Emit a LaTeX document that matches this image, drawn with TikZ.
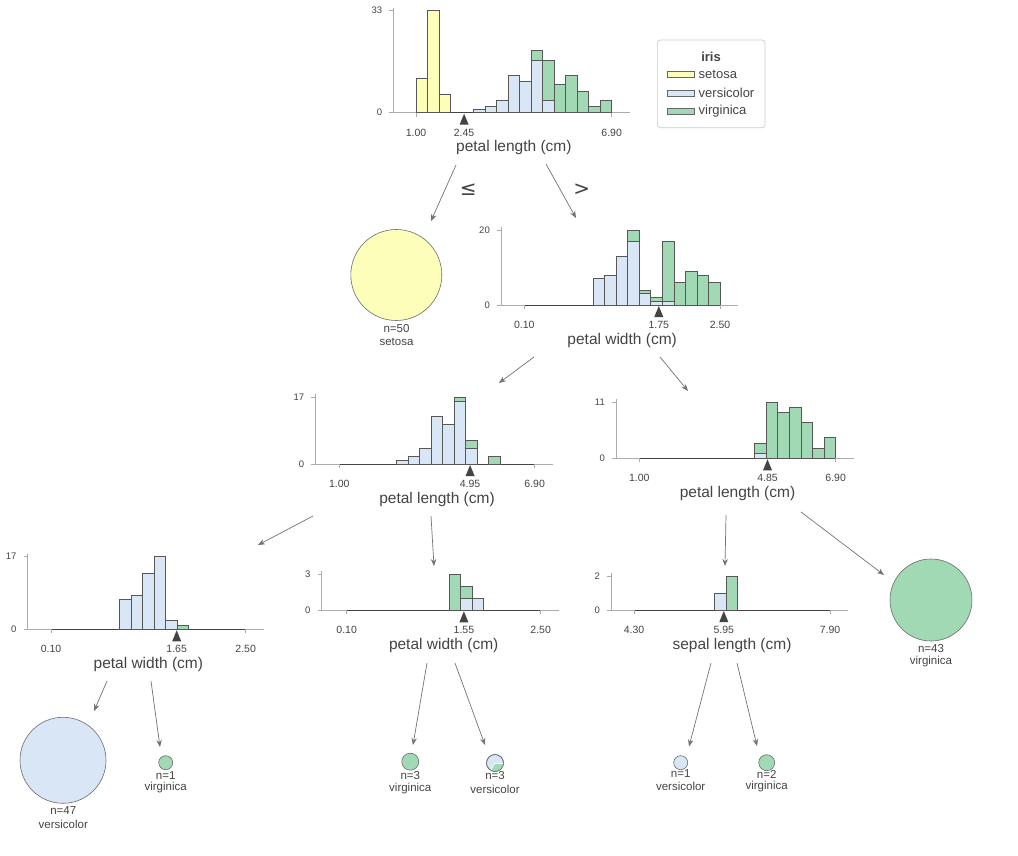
\documentclass[tikz,border=0pt]{standalone}
\usepackage{fontspec}
\setmainfont{Liberation Sans}
\newfontfamily\symfont{DejaVu Sans}
\usetikzlibrary{arrows.meta}
\definecolor{setosa}{HTML}{FEFEBB}
\definecolor{vers}{HTML}{D9E6F5}
\definecolor{virg}{HTML}{A1D9B4}
\definecolor{edge}{HTML}{444443}
\definecolor{axisgray}{HTML}{ABABAB}
\definecolor{txt}{HTML}{444443}
\tikzset{
 bar/.style={draw=edge!90!white, line width=0.9pt},
 spine/.style={draw=axisgray, line width=0.8pt},
 zeroline/.style={draw=edge, line width=1pt},
 ticklab/.style={font=\fontsize{10.5}{12}\selectfont, text=txt, inner sep=0pt},
 ylab/.style={font=\fontsize{9.5}{11}\selectfont, text=txt, inner sep=0pt, anchor=east},
 axlab/.style={font=\fontsize{15.5}{18}\selectfont, text=txt, inner sep=0pt},
 leaflab/.style={font=\fontsize{11.5}{13}\selectfont, text=txt, inner sep=0pt},
 leaf/.style={circle, draw=gray!85!black, line width=0.6pt, inner sep=0pt},
 conn/.style={draw=gray!90!black, line width=0.7pt, -{Stealth[length=7pt,width=5.5pt]}},
 splitmark/.style={fill=edge, draw=none},
 cmp/.style={font=\symfont\fontsize{20}{22}\selectfont, text=txt, inner sep=0pt},
 legtext/.style={font=\fontsize{13}{15}\selectfont, text=txt, inner sep=0pt, anchor=west},
 swatch/.style={draw=gray!80!black, line width=0.6pt},
}
% spine x, X0, X1, Y0, top y, top label
\newcommand{\hframe}[6]{%
  \draw[spine] (#1,{#5-3}) -- (#1,#4);
  \draw[spine] ({#1-4},#4) -- ({#3+18},#4);
  \draw[spine] ({#1-4},#5) -- (#1,#5);
  \node[ylab] at ({#1-11},#5) {#6};
  \node[ylab] at ({#1-11},#4) {0};
  \draw[zeroline] (#2,#4) -- (#3,#4);
}
% Y0, X0, lab0, split x, split lab, X1, lab1, axis label
\newcommand{\hticks}[8]{%
  \draw[spine] (#2,#1) -- (#2,{#1+4});
  \draw[spine] (#6,#1) -- (#6,{#1+4});
  \node[ticklab] at (#2,{#1+20}) {#3};
  \node[ticklab] at (#4,{#1+20}) {#5};
  \node[ticklab] at (#6,{#1+20}) {#7};
  \node[axlab] at ({(#2+#6)/2},{#1+35}) {#8};
}
\newcommand{\hsplit}[2]{%
  \fill[splitmark] (#1,{#2+1}) -- ({#1-4.5},{#2+12}) -- ({#1+4.5},{#2+12}) -- cycle;
}
% X0, W, Y0, H, colour, list i/lo/hi
\newcommand{\hbins}[6]{%
  \foreach \i/\lo/\hi in {#6} {\filldraw[bar, fill=#5] ({#1+\i*#2},{#3-\lo*#4}) rectangle ({#1+(\i+1)*#2},{#3-\hi*#4});}
}
\begin{document}
\begin{tikzpicture}[x=1pt,y=-1pt]
\useasboundingbox (0,0) rectangle (1018,856);
\fill[white] (0,0) rectangle (1018,856);

% ---------- root: petal length ----------
\hframe{393.3}{416}{611.7}{112.7}{10.7}{33}
\hbins{416}{11.512}{112.7}{3.09}{setosa}{0/0/11,1/0/33,2/0/6}
\hbins{416}{11.512}{112.7}{3.09}{vers}{5/0/1,6/0/2,7/0/4,8/0/12,9/0/10,10/0/17,11/0/4}
\hbins{416}{11.512}{112.7}{3.09}{virg}{10/17/20,11/4/17,12/0/9,13/0/12,14/0/7,15/0/2,16/0/4}
\hticks{112.7}{416}{1.00}{464.1}{2.45}{611.7}{6.90}{petal length (cm)}
\hsplit{464.1}{112.7}
\coordinate (rootL) at (456,165);
\coordinate (rootR) at (546,164);

% ---------- legend ----------
\node[draw=gray!40, line width=0.7pt, rounded corners=3pt, fill=white, minimum width=107.7pt, minimum height=87.7pt, inner sep=0pt] (legend) at (711.2,83.9) {};
\node[font=\fontsize{13}{15}\selectfont\bfseries, text=txt, inner sep=0pt] (legtitle) at (711,56.7) {iris};
\draw[swatch, fill=setosa] (667.3,71.7) rectangle (694.3,77.7);
\draw[swatch, fill=vers] (667.3,90) rectangle (694.3,96);
\draw[swatch, fill=virg] (667.3,108.3) rectangle (694.3,114.3);
\node[legtext] (leg1) at (698.5,74.7) {setosa};
\node[legtext] (leg2) at (698.5,93) {versicolor};
\node[legtext] (leg3) at (698.5,111.3) {virginica};

% ---------- comparison symbols ----------
\node[cmp] (le) at (468.3,190) {≤};
\node[cmp] (gt) at (581.7,189.3) {>};

% ---------- leaf: setosa ----------
\node[leaf, fill=setosa, minimum size=91pt] (setosa) at (396.3,275) {};
\node[leaflab] (setosaN) at (396.5,328.3) {n=50};
\node[leaflab] (setosaC) at (396.5,341.7) {setosa};
\coordinate (setosaIn) at (431,221);

% ---------- node 2: petal width ----------
\hframe{501}{524.3}{720}{305}{230}{20}
\hbins{524.3}{11.512}{305}{3.75}{vers}{6/0/7,7/0/8,8/0/13,9/0/17,10/0/3,11/0/1,12/0/1}
\hbins{524.3}{11.512}{305}{3.75}{virg}{9/17/20,10/3/4,11/1/2,12/1/17,13/0/6,14/0/9,15/0/8,16/0/6}
\hticks{305}{524.3}{0.10}{658.8}{1.75}{720}{2.50}{petal width (cm)}
\hsplit{658.8}{305}
\coordinate (n2In) at (576,218);
\coordinate (n2L) at (534,357);
\coordinate (n2R) at (660,357);

% ---------- node 3: petal length ----------
\hframe{315.3}{339.3}{534.7}{464}{397}{17}
\hbins{339.3}{11.494}{464}{3.94}{vers}{5/0/1,6/0/2,7/0/4,8/0/12,9/0/10,10/0/16,11/0/4}
\hbins{339.3}{11.494}{464}{3.94}{virg}{10/16/17,11/4/6,13/0/2}
\hticks{464}{339.3}{1.00}{470.1}{4.95}{534.7}{6.90}{petal length (cm)}
\hsplit{470.1}{464}
\coordinate (n3In) at (499,383);
\coordinate (n3L) at (313,516);
\coordinate (n3R) at (431,516);

% ---------- node 4: petal length ----------
\hframe{616}{639.3}{835.7}{458.3}{402.3}{11}
\hbins{639.3}{11.553}{458.3}{5.09}{vers}{10/0/1}
\hbins{639.3}{11.553}{458.3}{5.09}{virg}{10/1/3,11/0/11,12/0/9,13/0/10,14/0/7,15/0/2,16/0/4}
\hticks{458.3}{639.3}{1.00}{767.5}{4.85}{835.7}{6.90}{petal length (cm)}
\hsplit{767.5}{458.3}
\coordinate (n4In) at (688,391);
\coordinate (n4L) at (726,515);
\coordinate (n4R) at (801,512);

% ---------- node 5: petal width ----------
\hframe{27.7}{51}{245.7}{629.3}{556.7}{17}
\hbins{51}{11.453}{629.3}{4.27}{vers}{6/0/7,7/0/8,8/0/13,9/0/17,10/0/2}
\hbins{51}{11.453}{629.3}{4.27}{virg}{11/0/1}
\hticks{629.3}{51}{0.10}{176.7}{1.65}{245.7}{2.50}{petal width (cm)}
\hsplit{176.7}{629.3}
\coordinate (n5In) at (258,545);
\coordinate (n5L) at (107,681);
\coordinate (n5R) at (151,681);

% ---------- node 6: petal width ----------
\hframe{321.7}{346.7}{540.7}{610.3}{574.3}{3}
\hbins{346.7}{11.412}{610.3}{12}{virg}{9/0/3,10/1/2}
\hbins{346.7}{11.412}{610.3}{12}{vers}{10/0/1,11/0/1}
\hticks{610.3}{346.7}{0.10}{463.9}{1.55}{540.7}{2.50}{petal width (cm)}
\hsplit{463.9}{610.3}
\coordinate (n6In) at (434,566);
\coordinate (n6L) at (427,663);
\coordinate (n6R) at (455,663);

% ---------- node 7: sepal length ----------
\hframe{611}{634}{830}{610}{576}{2}
\hbins{634}{11.53}{610}{17}{vers}{7/0/1}
\hbins{634}{11.53}{610}{17}{virg}{8/0/2}
\hticks{610}{634}{4.30}{723.8}{5.95}{830}{7.90}{sepal length (cm)}
\hsplit{723.8}{610}
\coordinate (n7In) at (725,566);
\coordinate (n7L) at (711,663);
\coordinate (n7R) at (737,663);

% ---------- leaves ----------
\node[leaf, fill=virg, minimum size=82pt] (L43) at (931,600) {};
\node[leaflab] (L43N) at (931,649) {n=43};
\node[leaflab] (L43C) at (931,662) {virginica};
\coordinate (L43In) at (884,575);

\node[leaf, fill=vers, minimum size=86pt] (L47) at (63,760.3) {};
\node[leaflab] (L47N) at (63.3,810.7) {n=47};
\node[leaflab] (L47C) at (63.3,824.3) {versicolor};
\coordinate (L47In) at (94,711);

\node[leaf, fill=virg, minimum size=14pt] (L1a) at (165.7,762.7) {};
\node[leaflab] (L1aN) at (165.7,775.5) {n=1};
\node[leaflab] (L1aC) at (165.7,787.5) {virginica};
\coordinate (L1aIn) at (160,747);

\node[leaf, fill=virg, minimum size=17pt] (L3a) at (410.3,761.7) {};
\node[leaflab] (L3aN) at (410.3,775.5) {n=3};
\node[leaflab] (L3aC) at (410.3,788.3) {virginica};
\coordinate (L3aIn) at (413,745);

\node[leaf, fill=vers, minimum size=17pt] (L3b) at (495,763) {};
\fill[virg] (L3b.center) -- ++(0:8.5) arc[start angle=0, end angle=120, radius=8.5] -- cycle;
\draw[white, line width=0.6pt] (L3b.center) -- ++(0:8.5);
\draw[white, line width=0.6pt] (L3b.center) -- ++(120:8.5);
\draw[gray!85!black, line width=0.6pt] (L3b.center) circle[radius=8.5];
\node[leaflab] (L3bN) at (495,776) {n=3};
\node[leaflab] (L3bC) at (495,789.3) {versicolor};
\coordinate (L3bIn) at (485,745);

\node[leaf, fill=vers, minimum size=14pt] (L1b) at (680.7,762.7) {};
\node[leaflab] (L1bN) at (680.7,774) {n=1};
\node[leaflab] (L1bC) at (680.7,786.7) {versicolor};
\coordinate (L1bIn) at (689,746.5);

\node[leaf, fill=virg, minimum size=16pt] (L2) at (766.7,762.7) {};
\node[leaflab] (L2N) at (766.7,774) {n=2};
\node[leaflab] (L2C) at (766.7,786.7) {virginica};
\coordinate (L2In) at (757,746);

% ---------- connectors ----------
\draw[conn] (rootL) -- (setosaIn);
\draw[conn] (rootR) -- (n2In);
\draw[conn] (n2L) -- (n3In);
\draw[conn] (n2R) -- (n4In);
\draw[conn] (n3L) -- (n5In);
\draw[conn] (n3R) -- (n6In);
\draw[conn] (n4L) -- (n7In);
\draw[conn] (n4R) -- (L43In);
\draw[conn] (n5L) -- (L47In);
\draw[conn] (n5R) -- (L1aIn);
\draw[conn] (n6L) -- (L3aIn);
\draw[conn] (n6R) -- (L3bIn);
\draw[conn] (n7L) -- (L1bIn);
\draw[conn] (n7R) -- (L2In);
\end{tikzpicture}
\end{document}
